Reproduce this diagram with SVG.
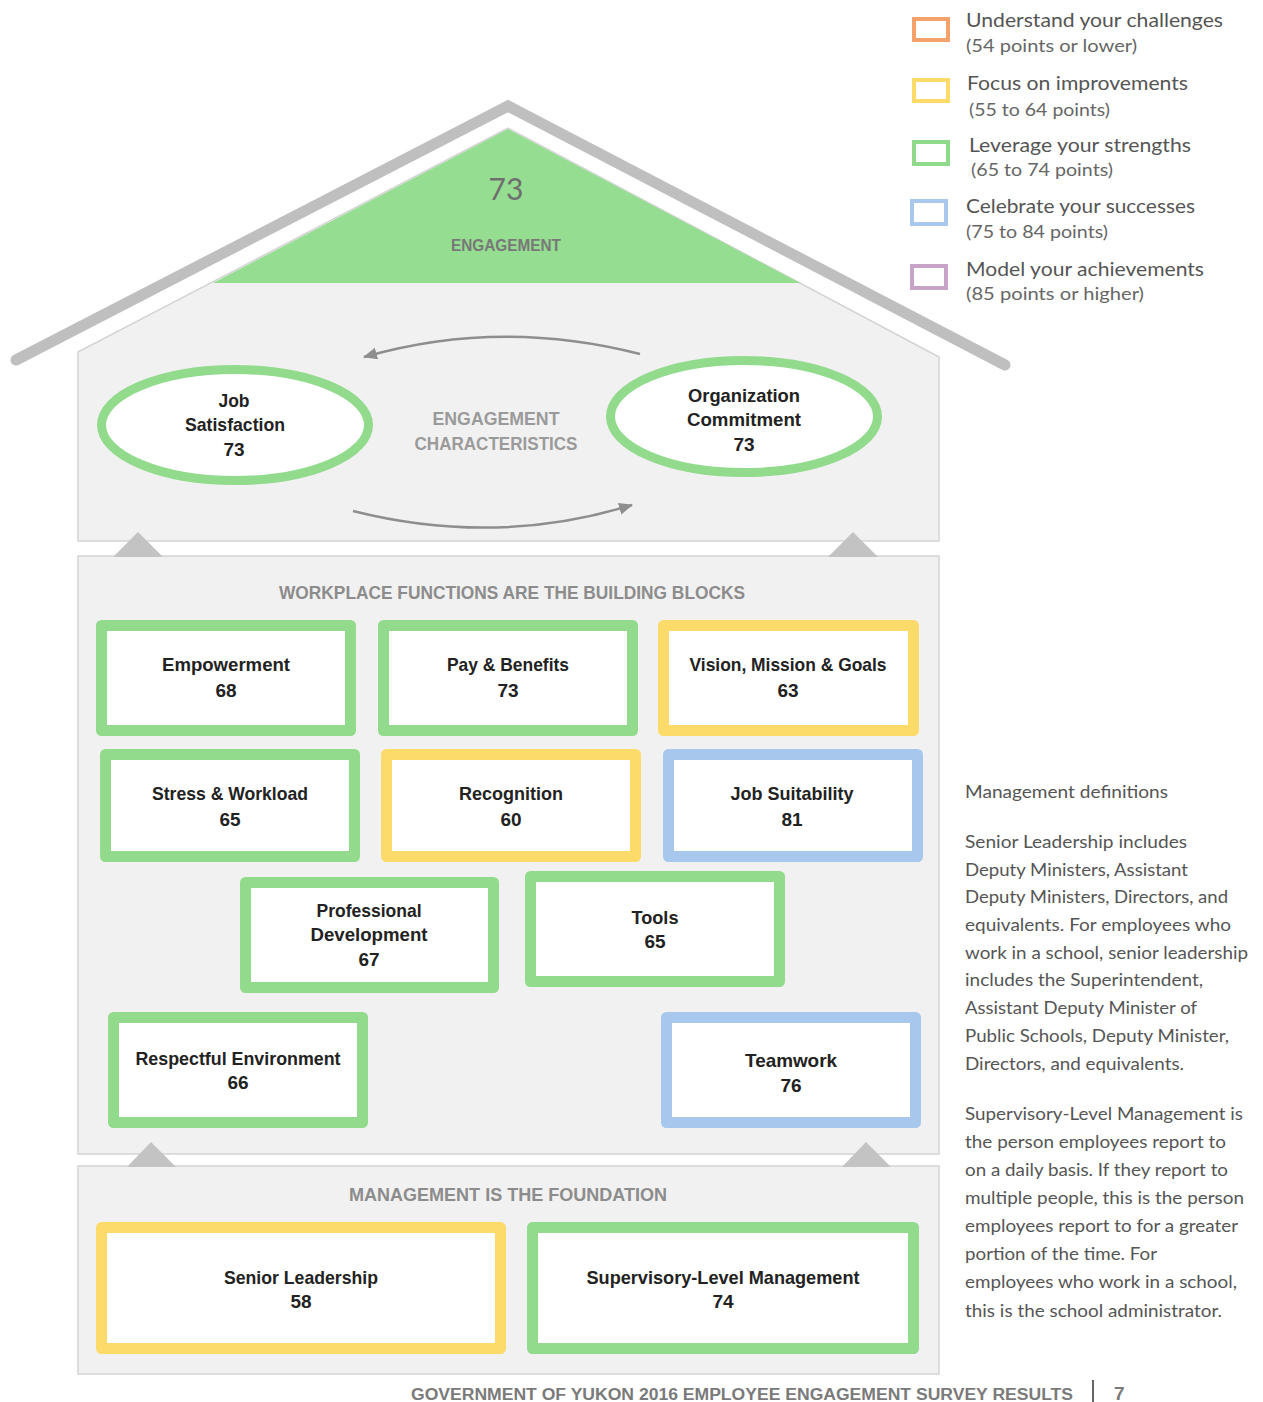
<svg xmlns="http://www.w3.org/2000/svg" width="1263" height="1402" viewBox="0 0 1263 1402">
<style>
.sec{fill:#f1f1f1;stroke:#d3d3d3;stroke-width:1.5}
.tri{fill:#c3c3c3}
.box{fill:#fff;stroke-width:11;stroke-linejoin:round}
.g{stroke:#92db8d}
.y{stroke:#fcdb6b}
.b{stroke:#a7c7ec}
.lbl{font-family:"Liberation Sans",Arial,sans-serif;font-weight:bold;font-size:19px;fill:#222;text-anchor:middle}
.hdr{font-family:"Liberation Sans",Arial,sans-serif;font-weight:bold;font-size:19px;fill:#8c8c8c}
.leg{font-family:Lato,"Liberation Sans",sans-serif;font-size:20px;fill:#555}
.legs{font-family:Lato,"Liberation Sans",sans-serif;font-size:18px;fill:#666}
.par{font-family:Lato,"Liberation Sans",sans-serif;font-size:18px;fill:#555}
.lb{fill:#fff;stroke-width:4}
.arr{fill:none;stroke:#8e8e8e;stroke-width:2.5}
</style>
<defs>
<marker id="ah" markerUnits="userSpaceOnUse" markerWidth="16" markerHeight="14" refX="13" refY="6" orient="auto">
<path d="M0,0 L14,6 L0,12 z" fill="#8e8e8e"/>
</marker>
</defs>
<rect width="1263" height="1402" fill="#fff"/>

<g id="roof">
<polyline points="16,360 508,106 1005,365" fill="none" stroke="#bfbfbf" stroke-width="11" stroke-linecap="round" stroke-linejoin="miter"/>
</g>

<g id="upper-section">
<polygon class="sec" points="78,541 78,352 508,128 939,357 939,541"/>
</g>
<g id="engagement">
<polygon points="508,129 800,283 213,283" fill="#95dd90"/>
<text x="506" y="200" font-family="Lato,'Liberation Sans',sans-serif" font-size="30" fill="#6f6f6f" text-anchor="middle">73</text>
<text class="hdr" x="506" y="251" text-anchor="middle" textLength="110" lengthAdjust="spacingAndGlyphs" style="font-size:16px;fill:#787878">ENGAGEMENT</text>
</g>

<g id="middle-section">
<rect class="sec" x="78" y="556" width="861" height="598"/>
</g>
<g id="bottom-section">
<rect class="sec" x="78" y="1166" width="861" height="208"/>
</g>
<g id="up-arrows">
<polygon class="tri" points="113,557 138,532 163,557"/>
<polygon class="tri" points="828,557 853,532 878,557"/>
<polygon class="tri" points="127,1167 151,1142 176,1167"/>
<polygon class="tri" points="842,1167 866,1142 891,1167"/>
</g>

<g id="connectors">
<path class="arr" d="M640,354 Q500,318 364,357" marker-end="url(#ah)"/>
<path class="arr" d="M353,511 Q496,547 632,505" marker-end="url(#ah)"/>
</g>

<g id="engagement-characteristics">
<text class="hdr" x="496" y="425" text-anchor="middle" textLength="127" lengthAdjust="spacingAndGlyphs" style="fill:#9a9a9a">ENGAGEMENT</text>
<text class="hdr" x="496" y="450" text-anchor="middle" textLength="163" lengthAdjust="spacingAndGlyphs" style="fill:#9a9a9a">CHARACTERISTICS</text>
</g>

<g id="job-satisfaction">
<ellipse cx="235" cy="425" rx="133.5" ry="55.5" fill="#fff" stroke="#92db8d" stroke-width="9"/>
<text class="lbl" x="234" y="407" textLength="31" lengthAdjust="spacingAndGlyphs">Job</text>
<text class="lbl" x="235" y="431" textLength="100" lengthAdjust="spacingAndGlyphs">Satisfaction</text>
<text class="lbl" x="234" y="456">73</text>
</g>
<g id="organization-commitment">
<ellipse cx="744" cy="416.5" rx="133.5" ry="56" fill="#fff" stroke="#92db8d" stroke-width="9"/>
<text class="lbl" x="744" y="402" textLength="112" lengthAdjust="spacingAndGlyphs">Organization</text>
<text class="lbl" x="744" y="426" textLength="114" lengthAdjust="spacingAndGlyphs">Commitment</text>
<text class="lbl" x="744" y="451">73</text>
</g>

<g id="workplace-header">
<text class="hdr" x="512" y="599" text-anchor="middle" textLength="466" lengthAdjust="spacingAndGlyphs">WORKPLACE FUNCTIONS ARE THE BUILDING BLOCKS</text>
</g>

<g id="empowerment">
<rect class="box g" x="101.5" y="625.5" width="249" height="105"/>
<text class="lbl" x="226" y="671" textLength="128" lengthAdjust="spacingAndGlyphs">Empowerment</text>
<text class="lbl" x="226" y="697">68</text>
</g>
<g id="pay-benefits">
<rect class="box g" x="383.5" y="625.5" width="249" height="105"/>
<text class="lbl" x="508" y="671" textLength="122" lengthAdjust="spacingAndGlyphs">Pay &amp; Benefits</text>
<text class="lbl" x="508" y="697">73</text>
</g>
<g id="vision-mission-goals">
<rect class="box y" x="663.5" y="625.5" width="250" height="105"/>
<text class="lbl" x="788" y="671" textLength="197" lengthAdjust="spacingAndGlyphs">Vision, Mission &amp; Goals</text>
<text class="lbl" x="788" y="697">63</text>
</g>
<g id="stress-workload">
<rect class="box g" x="105.5" y="754.5" width="249" height="102"/>
<text class="lbl" x="230" y="800" textLength="156" lengthAdjust="spacingAndGlyphs">Stress &amp; Workload</text>
<text class="lbl" x="230" y="826">65</text>
</g>
<g id="recognition">
<rect class="box y" x="386.5" y="754.5" width="249" height="102"/>
<text class="lbl" x="511" y="800" textLength="104" lengthAdjust="spacingAndGlyphs">Recognition</text>
<text class="lbl" x="511" y="826">60</text>
</g>
<g id="job-suitability">
<rect class="box b" x="668.5" y="754.5" width="249" height="102"/>
<text class="lbl" x="792" y="800" textLength="123" lengthAdjust="spacingAndGlyphs">Job Suitability</text>
<text class="lbl" x="792" y="826">81</text>
</g>
<g id="professional-development">
<rect class="box g" x="245.5" y="882.5" width="248" height="105"/>
<text class="lbl" x="369" y="917" textLength="105" lengthAdjust="spacingAndGlyphs">Professional</text>
<text class="lbl" x="369" y="941" textLength="117" lengthAdjust="spacingAndGlyphs">Development</text>
<text class="lbl" x="369" y="966">67</text>
</g>
<g id="tools">
<rect class="box g" x="530.5" y="876.5" width="249" height="105"/>
<text class="lbl" x="655" y="924" textLength="47" lengthAdjust="spacingAndGlyphs">Tools</text>
<text class="lbl" x="655" y="948">65</text>
</g>
<g id="respectful-environment">
<rect class="box g" x="113.5" y="1017.5" width="249" height="105"/>
<text class="lbl" x="238" y="1065" textLength="205" lengthAdjust="spacingAndGlyphs">Respectful Environment</text>
<text class="lbl" x="238" y="1089">66</text>
</g>
<g id="teamwork">
<rect class="box b" x="666.5" y="1017.5" width="249" height="105"/>
<text class="lbl" x="791" y="1067" textLength="92" lengthAdjust="spacingAndGlyphs">Teamwork</text>
<text class="lbl" x="791" y="1092">76</text>
</g>

<g id="management-header">
<text class="hdr" x="508" y="1201" text-anchor="middle" textLength="318" lengthAdjust="spacingAndGlyphs">MANAGEMENT IS THE FOUNDATION</text>
</g>
<g id="senior-leadership">
<rect class="box y" x="101.5" y="1227.5" width="399" height="121"/>
<text class="lbl" x="301" y="1284" textLength="154" lengthAdjust="spacingAndGlyphs">Senior Leadership</text>
<text class="lbl" x="301" y="1308">58</text>
</g>
<g id="supervisory-level-management">
<rect class="box g" x="532.5" y="1227.5" width="381" height="121"/>
<text class="lbl" x="723" y="1284" textLength="273" lengthAdjust="spacingAndGlyphs">Supervisory-Level Management</text>
<text class="lbl" x="723" y="1308">74</text>
</g>

<g id="legend">
<rect class="lb" x="914" y="19" width="34" height="21" stroke="#f4a26a"/>
<text class="leg" x="966" y="27" textLength="257" lengthAdjust="spacingAndGlyphs">Understand your challenges</text>
<text class="legs" x="966" y="52" textLength="171" lengthAdjust="spacingAndGlyphs">(54 points or lower)</text>
<rect class="lb" x="914" y="80" width="34" height="21" stroke="#fcdb6b"/>
<text class="leg" x="967" y="90" textLength="221" lengthAdjust="spacingAndGlyphs">Focus on improvements</text>
<text class="legs" x="969" y="116" textLength="141" lengthAdjust="spacingAndGlyphs">(55 to 64 points)</text>
<rect class="lb" x="914" y="142" width="34" height="22" stroke="#8ed98a"/>
<text class="leg" x="969" y="152" textLength="222" lengthAdjust="spacingAndGlyphs">Leverage your strengths</text>
<text class="legs" x="971" y="176" textLength="142" lengthAdjust="spacingAndGlyphs">(65 to 74 points)</text>
<rect class="lb" x="912" y="201" width="34" height="23" stroke="#a8c8ee"/>
<text class="leg" x="966" y="213" textLength="229" lengthAdjust="spacingAndGlyphs">Celebrate your successes</text>
<text class="legs" x="966" y="238" textLength="142" lengthAdjust="spacingAndGlyphs">(75 to 84 points)</text>
<rect class="lb" x="912" y="266" width="34" height="22" stroke="#c8a3c8"/>
<text class="leg" x="966" y="276" textLength="238" lengthAdjust="spacingAndGlyphs">Model your achievements</text>
<text class="legs" x="966" y="300" textLength="178" lengthAdjust="spacingAndGlyphs">(85 points or higher)</text>
</g>

<g id="management-definitions">
<text class="par" x="965" y="798" textLength="203" lengthAdjust="spacingAndGlyphs">Management definitions</text>
<text class="par" x="965" y="848" textLength="222" lengthAdjust="spacingAndGlyphs">Senior Leadership includes</text>
<text class="par" x="965" y="876" textLength="223" lengthAdjust="spacingAndGlyphs">Deputy Ministers, Assistant</text>
<text class="par" x="965" y="903" textLength="263" lengthAdjust="spacingAndGlyphs">Deputy Ministers, Directors, and</text>
<text class="par" x="965" y="931" textLength="266" lengthAdjust="spacingAndGlyphs">equivalents. For employees who</text>
<text class="par" x="965" y="959" textLength="283" lengthAdjust="spacingAndGlyphs">work in a school, senior leadership</text>
<text class="par" x="965" y="986" textLength="238" lengthAdjust="spacingAndGlyphs">includes the Superintendent,</text>
<text class="par" x="965" y="1014" textLength="232" lengthAdjust="spacingAndGlyphs">Assistant Deputy Minister of</text>
<text class="par" x="965" y="1042" textLength="264" lengthAdjust="spacingAndGlyphs">Public Schools, Deputy Minister,</text>
<text class="par" x="965" y="1070" textLength="219" lengthAdjust="spacingAndGlyphs">Directors, and equivalents.</text>
<text class="par" x="965" y="1120" textLength="278" lengthAdjust="spacingAndGlyphs">Supervisory-Level Management is</text>
<text class="par" x="965" y="1148" textLength="261" lengthAdjust="spacingAndGlyphs">the person employees report to</text>
<text class="par" x="965" y="1176" textLength="263" lengthAdjust="spacingAndGlyphs">on a daily basis. If they report to</text>
<text class="par" x="965" y="1204" textLength="279" lengthAdjust="spacingAndGlyphs">multiple people, this is the person</text>
<text class="par" x="965" y="1232" textLength="273" lengthAdjust="spacingAndGlyphs">employees report to for a greater</text>
<text class="par" x="965" y="1260" textLength="192" lengthAdjust="spacingAndGlyphs">portion of the time. For</text>
<text class="par" x="965" y="1288" textLength="272" lengthAdjust="spacingAndGlyphs">employees who work in a school,</text>
<text class="par" x="965" y="1317" textLength="257" lengthAdjust="spacingAndGlyphs">this is the school administrator.</text>
</g>

<g id="footer">
<text class="hdr" x="411" y="1400" textLength="662" lengthAdjust="spacingAndGlyphs" style="font-size:16px;fill:#7a7a7a">GOVERNMENT OF YUKON 2016 EMPLOYEE ENGAGEMENT SURVEY RESULTS</text>
<line x1="1093" y1="1380" x2="1093" y2="1402" stroke="#666" stroke-width="2"/>
<text class="hdr" x="1114" y="1400" style="fill:#7a7a7a">7</text>
</g>
</svg>
